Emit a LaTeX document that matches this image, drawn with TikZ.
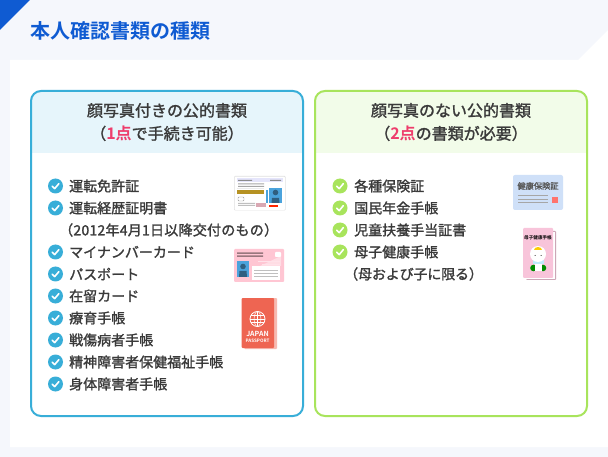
\documentclass[tikz,border=0pt]{standalone}
\usepackage{fontspec}
\setmainfont{Noto Sans CJK JP}[BoldFont={Noto Sans CJK JP Bold}]
\newfontfamily\medfont{Noto Sans CJK JP}[FakeBold=1.5]
\newfontfamily\medwide{Noto Sans CJK JP}[FakeBold=1.5,LetterSpace=1.8]
\newfontfamily\medtight{Noto Sans CJK JP}[FakeBold=1.5,LetterSpace=-1]
\newfontfamily\boldfont{Noto Sans CJK JP Bold}
\definecolor{pagebg}{HTML}{F5F7FC}
\definecolor{titleblue}{HTML}{0F5BD2}
\definecolor{boxblue}{HTML}{38AED8}
\definecolor{headblue}{HTML}{E6F5FB}
\definecolor{boxgreen}{HTML}{A8E45C}
\definecolor{headgreen}{HTML}{F2FCE9}
\definecolor{inktext}{HTML}{3A3A3A}
\definecolor{accent}{HTML}{EE3D6C}
\definecolor{photoblue}{HTML}{4BA3DC}
\definecolor{silhouette}{HTML}{2F5F80}
\definecolor{cardpink}{HTML}{FFC6D3}
\definecolor{passred}{HTML}{EE6552}
\definecolor{healthblue}{HTML}{CFE0F8}
\definecolor{bookpink}{HTML}{F8C4DA}
\tikzset{
  x=1pt,y=-1pt,
  itemtext/.style={anchor=west,inner sep=0pt,font=\medfont\fontsize{14}{14}\selectfont,text=inktext},
  headtext/.style={align=center,inner sep=0pt,font=\medfont\fontsize{16}{23}\selectfont,text=inktext},
  checkblue/.style={circle,fill=boxblue,minimum size=15pt,inner sep=0pt},
  checkgreen/.style={circle,fill=boxgreen,minimum size=15pt,inner sep=0pt},
  tick/.style={draw=white,line width=1.6pt,line cap=round,line join=round},
  grayline/.style={draw=#1,line width=0.9pt},
}
\newcommand{\checkmk}[4]{% name, style, x, y
  \node[#2] (#1) at (#3,#4) {};
  \draw[tick] ([shift={(-3.2,0.2)}]#1.center) -- ([shift={(-0.8,2.6)}]#1.center) -- ([shift={(3.4,-2.4)}]#1.center);
}
\newcommand{\hot}[1]{{\boldfont\color{accent}#1}}
\begin{document}
\begin{tikzpicture}
\useasboundingbox (0,0) rectangle (608,457);
\fill[pagebg] (0,0) rectangle (608,457);
\fill[white] (10,60) -- (578,60) -- (608,30) -- (608,447) -- (10,447) -- cycle;
\fill[titleblue] (0,0) -- (30,0) -- (0,30) -- cycle;
\node[anchor=west,inner sep=0pt,font=\boldfont\fontsize{20}{20}\selectfont,text=titleblue] (title) at (30,31) {本人確認書類の種類};

% left box
\begin{scope}
\clip[rounded corners=10pt] (31,91) rectangle (303,416);
\fill[headblue] (31,91) rectangle (303,153);
\end{scope}
\draw[boxblue,line width=2pt,rounded corners=10pt] (31,91) rectangle (303,416);
\node[headtext] (lhead) at (167,122) {顔写真付きの公的書類\\（\hot{1点}で手続き可能）};

% right box
\begin{scope}
\clip[rounded corners=10pt] (315,91) rectangle (587,416);
\fill[headgreen] (315,91) rectangle (587,153);
\end{scope}
\draw[boxgreen,line width=2pt,rounded corners=10pt] (315,91) rectangle (587,416);
\node[headtext] (rhead) at (451,122) {顔写真のない公的書類\\（\hot{2点}の書類が必要）};

% left list
\checkmk{la}{checkblue}{55.5}{186}
\node[itemtext] (ta) at (69,186) {運転免許証};
\checkmk{lb}{checkblue}{55.5}{208}
\node[itemtext] (tb) at (69,208) {運転経歴証明書};
\node[itemtext,font=\medwide\fontsize{14}{14}\selectfont] (tb2) at (59,230) {（2012年4月1日以降交付のもの）};
\checkmk{lc}{checkblue}{55.5}{252}
\node[itemtext] (tc) at (69,252) {マイナンバーカード};
\checkmk{ld}{checkblue}{55.5}{274}
\node[itemtext] (td) at (69,274) {パスポート};
\checkmk{le}{checkblue}{55.5}{296}
\node[itemtext] (te) at (69,296) {在留カード};
\checkmk{lf}{checkblue}{55.5}{318}
\node[itemtext] (tf) at (69,318) {療育手帳};
\checkmk{lg}{checkblue}{55.5}{340}
\node[itemtext] (tg) at (69,340) {戦傷病者手帳};
\checkmk{lh}{checkblue}{55.5}{362}
\node[itemtext] (th) at (69,362) {精神障害者保健福祉手帳};
\checkmk{li}{checkblue}{55.5}{384}
\node[itemtext] (ti) at (69,384) {身体障害者手帳};

% right list
\checkmk{ra}{checkgreen}{340}{186}
\node[itemtext] (ua) at (354,186) {各種保険証};
\checkmk{rb}{checkgreen}{340}{208}
\node[itemtext] (ub) at (354,208) {国民年金手帳};
\checkmk{rc}{checkgreen}{340}{230}
\node[itemtext] (uc) at (354,230) {児童扶養手当証書};
\checkmk{rd}{checkgreen}{340}{252}
\node[itemtext] (ud) at (354,252) {母子健康手帳};
\node[itemtext,font=\medtight\fontsize{14}{14}\selectfont] (ud2) at (344,274) {（母および子に限る）};

% driving licence
\fill[black!12,rounded corners=1pt] (234,176) rectangle (285.5,210.5);
\fill[white,rounded corners=1pt] (234.6,176.6) rectangle (285,210);
\fill[black!15!blue!10] (237,178.5) rectangle (283,182);
\fill[black!35] (238,183.5) rectangle (264,184.3) (238,186) rectangle (264,186.8);
\fill[black!45] (238,180) rectangle (252,180.8) (270,180) rectangle (281,180.8);
\fill[black!8] (237,188) rectangle (264,189);
\fill[brown!65!yellow!85!black] (237,190) rectangle (264,194);
\draw[black!40,line width=0.4pt,rounded corners=1pt] (238,197) rectangle (244,201);
\fill[black!25] (238,203) rectangle (255,204) (238,205) rectangle (255,206);
\fill[cardpink!85!black] (256,203) rectangle (266,207);
\fill[photoblue] (266,190) rectangle (268,203);
\fill[photoblue] (269,188) rectangle (282,203);
\fill[silhouette] (275.5,192.5) circle (2.8);
\fill[silhouette] (271.5,203) -- (272,198) -- (279,198) -- (279.5,203) -- cycle;
\fill[red!70!orange] (269,205) rectangle (278,207);

% my number card
\fill[cardpink,rounded corners=1pt] (234,249) rectangle (284,282);
\fill[white!40!cardpink] (260,266) -- (281,256) -- (281,266) -- cycle;
\fill[white] (252,266) rectangle (280,280);
\fill[black!40!cardpink] (237,252.5) rectangle (263,254) (237,255.5) rectangle (263,257);
\fill[white,rounded corners=0.8pt] (275,252) rectangle (281,257);
\fill[photoblue] (237,261) rectangle (249,277);
\fill[silhouette] (243,266.5) circle (2.8);
\fill[silhouette] (239,277) -- (239.5,271) -- (246.5,271) -- (247,277) -- cycle;
\draw[grayline=black!25] (254,270) -- (278,270) (254,273) -- (278,273) (254,276) -- (278,276);
\draw[cardpink!50!white,line width=0.8pt] (258,261) -- (280,261) (262,264) -- (280,264);

% passport
\fill[passred!45!white,rounded corners=1pt] (244,298) rectangle (277,349);
\fill[passred,rounded corners=1pt] (241.5,298) rectangle (274,348);
\draw[white,line width=0.8pt] (257.5,319) circle (7.5);
\draw[white,line width=0.5pt] (257.5,319) ellipse (3.4 and 7.5);
\draw[white,line width=0.5pt] (257.5,311.5) -- (257.5,326.5) (250,319) -- (265,319)
  (251,315.5) -- (264,315.5) (251,322.5) -- (264,322.5);
\node[inner sep=0pt,font=\boldfont\fontsize{7}{7}\selectfont,text=white] (japan) at (257.5,334) {JAPAN};
\node[inner sep=0pt,font=\boldfont\fontsize{4.6}{5}\selectfont,text=white] (pass) at (257.5,341) {PASSPORT};

% health insurance card
\fill[healthblue,rounded corners=2pt] (513,175) rectangle (563,210);
\node[inner sep=0pt,font=\medfont\fontsize{8.2}{8}\selectfont,text=black!65] (hcard) at (538,186) {健康保険証};
\draw[grayline=black!35] (518,195.5) -- (548,195.5) (518,199) -- (548,199) (518,202) -- (548,202);
\fill[red!55!white!95!orange] (552,197) rectangle (558,203);

% mother-child book
\fill[bookpink!80!black!90,rounded corners=1pt] (526,231) rectangle (556,280);
\fill[white] (525,232) rectangle (554.8,279);
\fill[bookpink,rounded corners=1pt] (523,228) rectangle (553,278);
\node[inner sep=0pt,font=\boldfont\fontsize{4.6}{5}\selectfont,text=black] (btitle) at (538,238) {母子健康手帳};
\fill[green!55!black] (533.5,268) circle (3.3) (543,268) circle (3.3);
\fill[white] (535,263) rectangle (541.5,271);
\fill[cyan!25!white] (533,260.5) rectangle (543.5,264);
\fill[white] (538,254) circle (8);
\fill[yellow!65!orange] (534,250) arc (180:360:4 and 3) -- cycle;
\fill[black] (535,255.5) circle (0.5) (541,255.5) circle (0.5);
\end{tikzpicture}
\end{document}
